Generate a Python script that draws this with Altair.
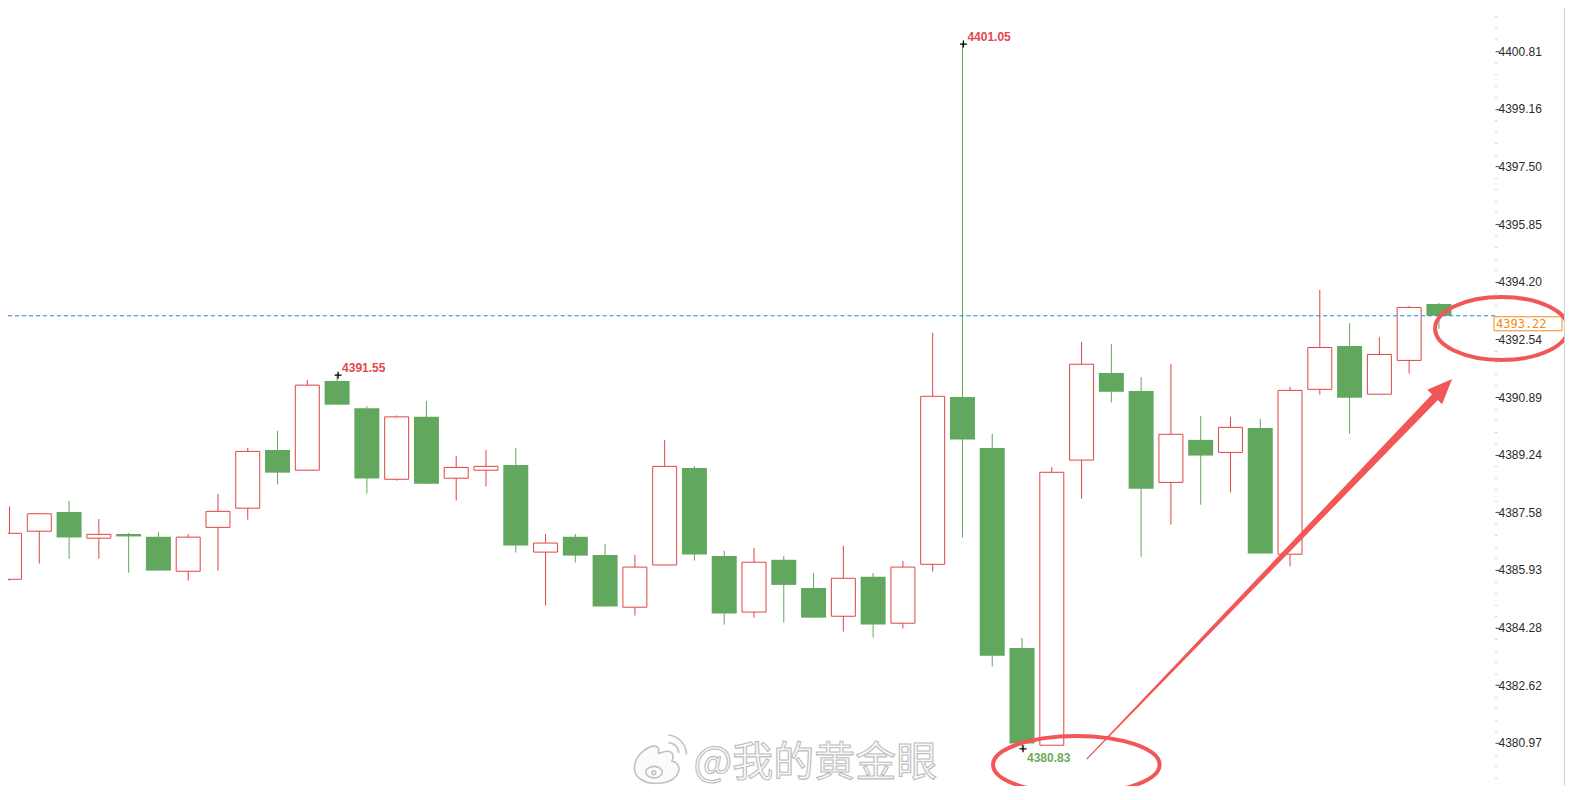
import json
import altair as alt
import pandas as pd

# ---------------- data ----------------
opens = [4385.66, 4387.04, 4387.59, 4386.84, 4386.96, 4386.88, 4385.89, 4387.15, 4387.70, 4389.37,
         4388.79, 4391.35, 4390.57, 4388.53, 4390.32, 4388.56, 4388.79, 4388.94, 4386.44, 4386.88,
         4386.36, 4384.86, 4386.07, 4388.85, 4386.33, 4384.72, 4386.22, 4385.41, 4384.60, 4385.73,
         4384.40, 4386.09, 4390.89, 4389.43, 4383.69, 4380.90, 4389.08, 4391.58, 4391.06, 4388.44,
         4389.66, 4389.30, 4390.00, 4386.38, 4391.11, 4392.35, 4390.97, 4391.94, 4393.56]
highs = [4387.75, 4387.56, 4387.91, 4387.39, 4386.99, 4387.02, 4386.96, 4388.11, 4389.43, 4389.92,
         4391.38, 4391.55, 4390.63, 4390.36, 4390.78, 4389.20, 4389.37, 4389.43, 4386.96, 4386.96,
         4386.68, 4386.36, 4389.66, 4388.91, 4386.48, 4386.56, 4386.33, 4385.84, 4386.62, 4385.84,
         4386.19, 4392.73, 4401.05, 4389.83, 4383.98, 4388.88, 4392.47, 4392.41, 4391.46, 4391.84,
         4390.35, 4390.32, 4390.26, 4391.18, 4393.96, 4393.01, 4392.61, 4393.50, 4393.59]
lows = [4385.62, 4386.11, 4386.25, 4386.25, 4385.85, 4385.91, 4385.62, 4385.91, 4387.37, 4388.38,
        4388.79, 4390.67, 4388.12, 4388.49, 4388.40, 4387.92, 4388.32, 4386.43, 4384.91, 4386.14,
        4384.88, 4384.62, 4386.07, 4386.20, 4384.36, 4384.56, 4384.42, 4384.56, 4384.16, 4383.99,
        4384.25, 4385.88, 4386.86, 4383.16, 4380.83, 4380.90, 4387.97, 4390.73, 4386.31, 4387.23,
        4387.80, 4388.15, 4386.40, 4386.03, 4390.96, 4389.84, 4390.97, 4391.56, 4392.84]
closes = [4386.98, 4387.54, 4386.86, 4386.95, 4386.89, 4385.91, 4386.87, 4387.61, 4389.33, 4388.72,
          4391.23, 4390.67, 4388.55, 4390.32, 4388.40, 4388.87, 4388.90, 4386.63, 4386.70, 4386.34,
          4384.88, 4386.01, 4388.90, 4386.37, 4384.68, 4386.15, 4385.50, 4384.56, 4385.69, 4384.36,
          4386.01, 4390.91, 4389.67, 4383.47, 4380.95, 4388.73, 4391.83, 4391.04, 4388.26, 4389.82,
          4389.21, 4390.02, 4386.40, 4391.08, 4392.31, 4390.87, 4392.11, 4393.46, 4393.22]

tick_labels = ["4380.97", "4382.62", "4384.28", "4385.93", "4387.58", "4389.24", "4390.89",
               "4392.54", "4394.20", "4395.85", "4397.50", "4399.16", "4400.81"]

last_price = 4393.22
mark_idx = [32, 11, 34]
mark_vals = [4401.05, 4391.55, 4380.83]
mark_kind = ["high", "high", "low"]

# arrow (in data coordinates: candle index, price)
arrow_i = [36.18, 47.86]
arrow_v = [4380.51, 4390.88]
arrow_w = [1.2, 8.0]
arrow_head_i = [48.15]
arrow_head_v = [4391.15]

watermark = "@我的黄金眼"

# ---------------- styling ----------------
RED = "#DE4540"
GREEN = "#62A75E"
ANN_RED = "#E5474F"
ANN_GREEN = "#6DAA5A"
ORANGE = "#F28A10"
BLUE = "#1E7FE0"
MARK_RED = "#F25757"

W, H = 1488, 778
PX_PER_UNIT = 34.879
ymax = 4402.043
ymin = ymax - H / PX_PER_UNIT

df = pd.DataFrame({"i": list(range(len(opens))), "open": opens, "high": highs,
                   "low": lows, "close": closes})
df["dir"] = ["up" if c >= o else "down" for o, c in zip(opens, closes)]

xscale = alt.Scale(domain=[0.1167, 49.7167], nice=False, zero=False)
yscale = alt.Scale(domain=[ymin, ymax], nice=False, zero=False)

majors = [float(s) for s in tick_labels]
step = (majors[-1] - majors[0]) / (len(majors) - 1) / 5
vals = list(majors)
for a, b in zip(majors[:-1], majors[1:]):
    for j in range(1, 5):
        vals.append(round(a + (b - a) * j / 5, 5))
k = 1
while majors[0] - k * step > ymin:
    vals.append(round(majors[0] - k * step, 5))
    k += 1
k = 1
while majors[-1] + k * step < ymax:
    vals.append(round(majors[-1] + k * step, 5))
    k += 1
vals = sorted(vals)

major_test = f"indexof({json.dumps(majors)}, datum.value) >= 0"
yaxis = alt.Axis(
    orient="right", values=vals, title=None, domain=False, grid=False,
    labelExpr=f"{major_test} ? format(datum.value, '.2f') : ''",
    labelOverlap=False, labelFlush=False, labelBound=False,
    tickSize=4, tickWidth=1, labelPadding=-1,
    tickColor={"condition": {"test": major_test, "value": "#444444"}, "value": "#9a9a9a"},
    tickDash={"condition": {"test": major_test, "value": [4, 0]}, "value": [1, 20]},
    labelFont="Liberation Sans", labelFontSize=12, labelColor="#2b2b2b",
)


def X(f):
    return alt.X(f"{f}:Q", scale=xscale, axis=None)


def Y(f):
    return alt.Y(f"{f}:Q", scale=yscale, axis=yaxis)


base = alt.Chart(df)

wicks = base.mark_rule(strokeWidth=1, clip=True).encode(
    x=X("i"), y=Y("low"), y2="high",
    color=alt.Color("dir:N", scale=alt.Scale(domain=["up", "down"], range=[RED, GREEN]), legend=None),
)
up_body = base.transform_filter("datum.close >= datum.open").mark_bar(
    size=24, fill="white", stroke=RED, strokeWidth=1, clip=True
).encode(x=X("i"), y=Y("open"), y2="close")
down_body = base.transform_filter("datum.close < datum.open").mark_bar(
    size=25, color=GREEN, clip=True
).encode(x=X("i"), y=Y("open"), y2="close")

price_df = pd.DataFrame({"p": [last_price]})
price_line = alt.Chart(price_df).mark_rule(color=BLUE, strokeDash=[4, 3], strokeWidth=1).encode(y=Y("p"))
price_box = alt.Chart(price_df).mark_rect(
    fill="white", stroke=ORANGE, strokeWidth=1, yOffset=1, y2Offset=15
).encode(x=alt.value(1487), x2=alt.value(1555), y=Y("p"), y2="p")
price_text = alt.Chart(price_df).mark_text(
    align="left", baseline="middle", dy=8, font="DejaVu Sans Mono", fontSize=12, color=ORANGE
).encode(x=alt.value(1489), y=Y("p"), text=alt.Text("p:Q", format=".2f"))
price_tri = alt.Chart(price_df).mark_point(
    shape="triangle-down", filled=True, size=22, color=ORANGE, yOffset=-3, opacity=1
).encode(x=alt.value(1551.5), y=Y("p"))

ann = pd.DataFrame({"i": mark_idx, "v": mark_vals, "kind": mark_kind})
ann["label"] = [f"{v:.2f}" for v in mark_vals]
plus = alt.Chart(ann).mark_point(
    shape="M-1,0H1M0,-1V1", size=49, filled=False, stroke="black", strokeWidth=1.3,
    opacity=1, xOffset=1, yOffset=1.2
).encode(x=X("i"), y=Y("v"))
ann_high = alt.Chart(ann).transform_filter("datum.kind == 'high'").mark_text(
    align="left", baseline="middle", dx=5, dy=-6, font="Liberation Sans", fontSize=12,
    fontWeight="bold", color=ANN_RED
).encode(x=X("i"), y=Y("v"), text="label:N")
ann_low = alt.Chart(ann).transform_filter("datum.kind == 'low'").mark_text(
    align="left", baseline="middle", dx=5, dy=10, font="Liberation Sans", fontSize=12,
    fontWeight="bold", color=ANN_GREEN
).encode(x=X("i"), y=Y("v"), text="label:N")

# watermark
logo_path = ("M-0.55,-0.35C-0.95,-0.05,-1.05,0.45,-0.7,0.7C-0.35,0.95,0.35,0.9,0.6,0.6"
             "C0.8,0.35,0.7,0.1,0.45,0.05C0.55,-0.2,0.45,-0.35,0.2,-0.3C0.05,-0.28,0,-0.2,-0.05,-0.25"
             "C0.05,-0.5,-0.2,-0.6,-0.55,-0.35Z"
             "M-0.5,0.45A0.3,0.21,0,1,0,0.1,0.45A0.3,0.21,0,1,0,-0.5,0.45Z"
             "M-0.28,0.47A0.07,0.07,0,1,0,-0.14,0.47A0.07,0.07,0,1,0,-0.28,0.47Z"
             "M0.32,-0.9A0.72,0.72,0,0,1,0.98,-0.2"
             "M0.32,-0.62A0.38,0.38,0,0,1,0.7,-0.25")
wm_df = pd.DataFrame({"t": [watermark]})
wm_logo = alt.Chart(wm_df).mark_point(
    shape=logo_path, size=3025, filled=False, fill="#fbfbfb", stroke="#c2c2c2", strokeWidth=1.6, opacity=1
).encode(x=alt.value(652), y=alt.value(752))
wm_text = alt.Chart(wm_df).mark_text(
    align="left", baseline="middle", font="Noto Sans CJK SC", fontSize=41,
    fill="#fafafa", stroke="#bcbcbc", strokeWidth=1.1
).encode(x=alt.value(686), y=alt.value(756), text="t:N")

# hand-drawn style red highlights
ell_df = pd.DataFrame({"t": ["e"]})
ell1 = alt.Chart(ell_df).mark_point(
    shape="M1,0A1,0.345,0,1,1,-1,0A1,0.345,0,1,1,1,0Z", size=27756, filled=False,
    stroke=MARK_RED, strokeWidth=4, opacity=1
).encode(x=alt.value(1069), y=alt.value(757))
ell2 = alt.Chart(ell_df).mark_point(
    shape="M1,0A1,0.474,0,1,1,-1,0A1,0.474,0,1,1,1,0Z", size=17689, filled=False,
    stroke=MARK_RED, strokeWidth=4, opacity=1
).encode(x=alt.value(1494.5), y=alt.value(320.5))

arrow_df = pd.DataFrame({"i": arrow_i, "v": arrow_v, "w": arrow_w})
arrow = alt.Chart(arrow_df).mark_trail(color=MARK_RED, opacity=1).encode(
    x=X("i"), y=Y("v"), size=alt.Size("w:Q", scale=None, legend=None)
)
head_df = pd.DataFrame({"i": arrow_head_i, "v": arrow_head_v})
arrow_head = alt.Chart(head_df).mark_point(
    shape="M0,-1L0.82,1L-0.82,1Z", size=635, filled=True, color=MARK_RED, angle=44, opacity=1
).encode(x=X("i"), y=Y("v"))

side_line = alt.Chart(ell_df).mark_rule(color="#c9d0da", strokeWidth=1).encode(
    x=alt.value(1557.5), y=alt.value(0), y2=alt.value(H)
)

chart = alt.layer(
    wm_text, wm_logo,
    wicks, up_body, down_body,
    price_line, price_box, price_text, price_tri,
    plus, ann_high, ann_low,
    arrow, arrow_head, ell1, ell2, side_line,
).properties(
    width=W, height=H,
    autosize=alt.AutoSizeParams(type="none"),
    padding={"left": 0, "top": 0, "right": 70, "bottom": 0},
    background="white",
).configure(font="Liberation Sans").configure_view(strokeWidth=0, stroke=None)

chart.save("out.html", embed_options={"renderer": "svg", "actions": False})
